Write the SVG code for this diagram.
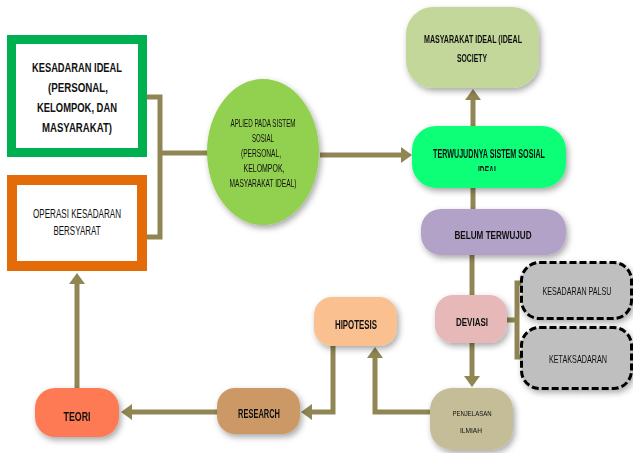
<svg xmlns="http://www.w3.org/2000/svg" width="633" height="453" viewBox="0 0 633 453">
<style>
text{font-family:"Liberation Sans",Arial,sans-serif;fill:#111;text-anchor:middle}
.b{font-weight:bold;font-size:13.5px}
.s{font-size:10px}
.c{fill:none;stroke:#8f8654;stroke-width:5}
.sh{filter:url(#ds)}
</style>
<defs>
<filter id="ds" x="-20%" y="-20%" width="150%" height="150%">
<feDropShadow dx="2" dy="3" stdDeviation="3" flood-color="#000" flood-opacity="0.35"/>
</filter>
<marker id="ah" markerUnits="userSpaceOnUse" markerWidth="12" markerHeight="16" refX="1" refY="8" orient="auto">
<path d="M0,0 L11,8 L0,16 z" fill="#8f8654"/>
</marker>
<clipPath id="clipIdeal"><rect x="400" y="100" width="200" height="71"/></clipPath>
</defs>

<g id="connectors">
<path class="c" d="M147,97 H160 V237 H147"/>
<path class="c" d="M160,153 H208"/>
<path class="c" d="M320,155 H402" marker-end="url(#ah)"/>
<path class="c" d="M473,126 V99" marker-end="url(#ah)"/>
<path class="c" d="M473,188 V210"/>
<path class="c" d="M472,255 V296"/>
<path class="c" d="M472,343 V377" marker-end="url(#ah)"/>
<path class="c" d="M507,320 H517"/>
<path class="c" d="M522,283 H517 V357 H522"/>
<path class="c" d="M430,412 H375 V357" marker-end="url(#ah)"/>
<path class="c" d="M333,346 V412 H311" marker-end="url(#ah)"/>
<path class="c" d="M217,412 H131" marker-end="url(#ah)"/>
<path class="c" d="M77,388 V283" marker-end="url(#ah)"/>
</g>

<g id="kesadaran-ideal">
<rect x="11.5" y="39.5" width="131" height="113" fill="#fff" stroke="#00b050" stroke-width="9"/>
<text class="b" x="77" y="72" textLength="90" lengthAdjust="spacingAndGlyphs">KESADARAN IDEAL</text>
<text class="b" x="78" y="92" textLength="60" lengthAdjust="spacingAndGlyphs">(PERSONAL,</text>
<text class="b" x="77" y="112" textLength="80" lengthAdjust="spacingAndGlyphs">KELOMPOK, DAN</text>
<text class="b" x="77" y="132" textLength="70" lengthAdjust="spacingAndGlyphs">MASYARAKAT)</text>
</g>

<g id="operasi">
<rect x="12" y="180" width="130" height="86" fill="#fff" stroke="#e36c09" stroke-width="10"/>
<text x="77" y="218" font-size="12.5" textLength="88" lengthAdjust="spacingAndGlyphs">OPERASI KESADARAN</text>
<text x="77" y="235" font-size="12.5" textLength="47" lengthAdjust="spacingAndGlyphs">BERSYARAT</text>
</g>

<g id="aplied" class="sh">
<ellipse cx="263" cy="152" rx="56" ry="73" fill="#92d050"/>
<text class="s" x="263" y="127" textLength="65" lengthAdjust="spacingAndGlyphs">APLIED PADA SISTEM</text>
<text class="s" x="263" y="142" textLength="22" lengthAdjust="spacingAndGlyphs">SOSIAL</text>
<text class="s" x="261" y="157" textLength="40" lengthAdjust="spacingAndGlyphs">(PERSONAL,</text>
<text class="s" x="264" y="172" textLength="41" lengthAdjust="spacingAndGlyphs">KELOMPOK,</text>
<text class="s" x="263" y="187" textLength="67" lengthAdjust="spacingAndGlyphs">MASYARAKAT  IDEAL)</text>
</g>

<g id="masyarakat-ideal" class="sh">
<rect x="406" y="7" width="133" height="81" rx="27" fill="#c4d79b"/>
<text x="473" y="43" font-weight="bold" font-size="11.5" textLength="98" lengthAdjust="spacingAndGlyphs">MASYARAKAT IDEAL (IDEAL</text>
<text x="472" y="62" font-weight="bold" font-size="11.5" textLength="30" lengthAdjust="spacingAndGlyphs">SOCIETY</text>
</g>

<g id="terwujudnya" class="sh">
<rect x="412" y="126" width="154" height="62" rx="24" fill="#0dff78"/>
<text x="489" y="158" font-weight="bold" font-size="12" textLength="112" lengthAdjust="spacingAndGlyphs">TERWUJUDNYA SISTEM SOSIAL</text>
<text x="488" y="175" font-weight="bold" font-size="12" textLength="20" lengthAdjust="spacingAndGlyphs" clip-path="url(#clipIdeal)">IDEAL</text>
</g>

<g id="belum" class="sh">
<rect x="421" y="209" width="145" height="46" rx="20" fill="#b3a2c7"/>
<text x="493" y="239" font-weight="bold" font-size="10.5" textLength="77" lengthAdjust="spacingAndGlyphs">BELUM TERWUJUD</text>
</g>

<g id="deviasi" class="sh">
<rect x="435" y="295" width="72" height="48" rx="18" fill="#e6b9b8"/>
<text x="472" y="326" font-weight="bold" font-size="11.5" textLength="32" lengthAdjust="spacingAndGlyphs">DEVIASI</text>
</g>

<g id="kesadaran-palsu" class="sh">
<rect x="521.5" y="262.5" width="110" height="56" rx="18" fill="#bfbfbf" stroke="#000" stroke-width="3" stroke-dasharray="7,3"/>
<text x="577" y="295" font-size="11" textLength="69" lengthAdjust="spacingAndGlyphs">KESADARAN PALSU</text>
</g>

<g id="ketaksadaran" class="sh">
<rect x="521.5" y="327.5" width="110" height="61" rx="18" fill="#bfbfbf" stroke="#000" stroke-width="3" stroke-dasharray="7,3"/>
<text x="578" y="363" font-size="10.5" textLength="58" lengthAdjust="spacingAndGlyphs">KETAKSADARAN</text>
</g>

<g id="penjelasan" class="sh">
<rect x="430" y="388" width="83" height="62" rx="22" fill="#c4bd97"/>
<text x="472" y="416" font-size="8" textLength="39" lengthAdjust="spacingAndGlyphs">PENJELASAN</text>
<text x="471" y="433" font-size="8" textLength="22" lengthAdjust="spacingAndGlyphs">ILMIAH</text>
</g>

<g id="hipotesis" class="sh">
<rect x="314" y="297" width="83" height="49" rx="18" fill="#fac090"/>
<text x="356" y="329" font-weight="bold" font-size="13" textLength="42" lengthAdjust="spacingAndGlyphs">HIPOTESIS</text>
</g>

<g id="research" class="sh">
<rect x="217" y="388" width="83" height="46" rx="18" fill="#cc9966"/>
<text x="259" y="418" font-weight="bold" font-size="13" textLength="42" lengthAdjust="spacingAndGlyphs">RESEARCH</text>
</g>

<g id="teori" class="sh">
<rect x="35" y="388" width="84" height="49" rx="20" fill="#fe7a55"/>
<text x="77" y="421" font-weight="bold" font-size="13" textLength="27" lengthAdjust="spacingAndGlyphs">TEORI</text>
</g>
</svg>
